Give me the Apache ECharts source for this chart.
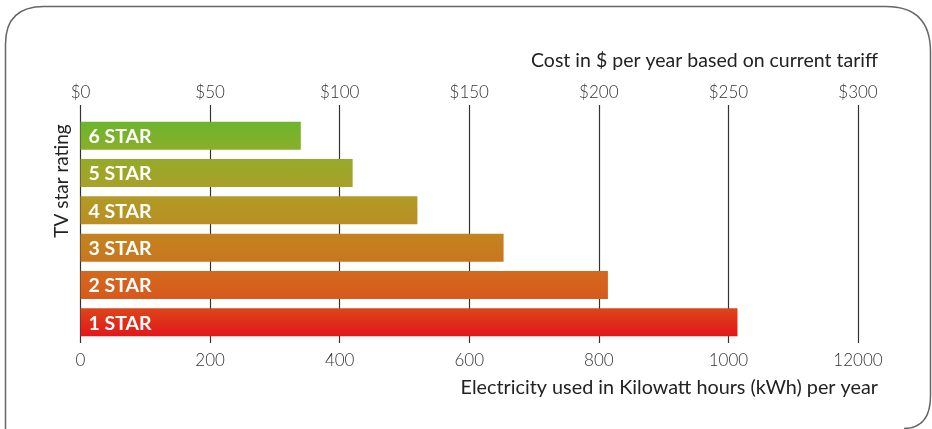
<!DOCTYPE html>
<html>
<head>
<meta charset="utf-8">
<script src="https://cdn.jsdelivr.net/npm/echarts@6/dist/echarts.min.js"></script>
<style>
html,body{margin:0;padding:0;background:#fff;}
#chart{width:932px;height:429px;}
</style>
</head>
<body>
<div id="chart"></div>
<script>
// ---- data ----
const categories = ['6 STAR', '5 STAR', '4 STAR', '3 STAR', '2 STAR', '1 STAR'];
const kwhValues = [340, 420, 520, 653, 814, 1014];
const kwhTickLabels = ['0', '200', '400', '600', '800', '1000', '12000'];
const costTickLabels = ['$0', '$50', '$100', '$150', '$200', '$250', '$300'];
const barTopColors = ['#6cb52c', '#95ab28', '#b19b26', '#c3841f', '#d26a1e', '#dc451a'];
const barBottomColors = ['#8aae2a', '#a9a02a', '#b98e23', '#c9761f', '#d8591c', '#e3161a'];

const FONT = 'Lato, "Open Sans", sans-serif';
const chart = echarts.init(document.getElementById('chart'), null, {renderer: 'canvas'});

const seriesData = kwhValues.map((v, i) => ({
  value: v,
  itemStyle: {
    color: {
      type: 'linear', x: 0, y: 0, x2: 0, y2: 1,
      colorStops: [
        {offset: 0, color: barTopColors[i]},
        {offset: 1, color: barBottomColors[i]}
      ]
    }
  }
}));

const axisCommon = {
  type: 'value', min: 0, max: 1200, interval: 200,
  axisLine: {show: false},
  splitLine: {show: false}
};

const borderStyle = {fill: null, stroke: '#666', lineWidth: 1.5};

chart.setOption({
  animation: false,
  backgroundColor: '#fff',
  grid: {left: 80.5, right: 74, top: 117, height: 224, containLabel: false},
  xAxis: [
    Object.assign({}, axisCommon, {
      position: 'bottom',
      splitLine: {show: true, lineStyle: {color: '#333', width: 1.2}},
      axisTick: {show: true, length: 2, lineStyle: {color: '#333', width: 1.2}},
      axisLabel: {
        margin: 11, color: '#333', fontFamily: FONT, fontSize: 17, fontWeight: 300,
        formatter: (v, i) => kwhTickLabels[i]
      }
    }),
    Object.assign({}, axisCommon, {
      position: 'top',
      axisTick: {show: true, length: 12, lineStyle: {color: '#333', width: 1.2}},
      axisLabel: {
        margin: 16, color: '#333', fontFamily: FONT, fontSize: 17, fontWeight: 300,
        formatter: (v, i) => costTickLabels[i]
      }
    })
  ],
  yAxis: {
    type: 'category', data: categories, inverse: true,
    axisLine: {show: false}, axisTick: {show: false}, axisLabel: {show: false}
  },
  series: [{
    type: 'bar', xAxisIndex: 0, data: seriesData, barWidth: 28, z: 1,
    label: {
      show: true, position: 'insideLeft', offset: [3, 1],
      formatter: '{b}', color: '#fff', fontFamily: FONT, fontWeight: 'bold', fontSize: 19.5
    }
  }],
  graphic: [
    {type: 'line', z: 100, shape: {x1: 5.5, y1: 430, x2: 5.5, y2: 44}, style: borderStyle},
    {type: 'bezierCurve', z: 100, shape: {x1: 5.5, y1: 44, cpx1: 5.5, cpy1: 6.5, x2: 44, y2: 6.5}, style: borderStyle},
    {type: 'line', z: 100, shape: {x1: 44, y1: 6.5, x2: 886, y2: 6.5}, style: borderStyle},
    {type: 'bezierCurve', z: 100, shape: {x1: 886, y1: 6.5, cpx1: 930.5, cpy1: 6.5, x2: 930.5, y2: 52}, style: borderStyle},
    {type: 'line', z: 100, shape: {x1: 930.5, y1: 52, x2: 930.5, y2: 396}, style: borderStyle},
    {type: 'bezierCurve', z: 100, shape: {x1: 930.5, y1: 396, cpx1: 930.5, cpy1: 428, x2: 904, y2: 428.5}, style: borderStyle},
    {
      type: 'text', right: 54, top: 51,
      style: {text: 'Cost in $ per year based on current tariff', fill: '#222', font: '19.5px ' + FONT}
    },
    {
      type: 'text', right: 54, top: 378,
      style: {text: 'Electricity used in Kilowatt hours (kWh) per year', fill: '#222', font: '19.8px ' + FONT}
    },
    {
      type: 'text', x: 62, y: 181, rotation: Math.PI / 2,
      style: {text: 'TV star rating', fill: '#222', font: '19px ' + FONT, align: 'center', verticalAlign: 'middle'}
    }
  ]
});
</script>
</body>
</html>
